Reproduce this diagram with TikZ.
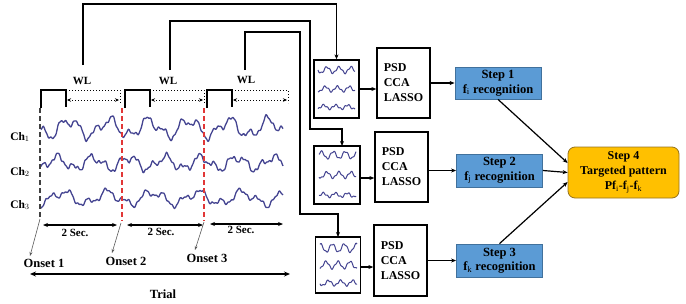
\documentclass[tikz,border=0pt]{standalone}
\usepackage{fontspec}
\setmainfont{Liberation Serif}
\usetikzlibrary{arrows.meta}
\definecolor{wavec}{RGB}{68,68,145}
\definecolor{stepblue}{RGB}{91,155,213}
\definecolor{stepborder}{RGB}{65,113,156}
\definecolor{goldfill}{RGB}{255,192,0}
\definecolor{goldborder}{RGB}{150,115,30}
\definecolor{onsetred}{RGB}{225,55,55}
\begin{document}
\begin{tikzpicture}[x=1pt,y=-1pt,font=\bfseries,
  conn/.style={line width=1.3pt,-{Stealth[length=5pt,width=4pt]}},
  wbox/.style={draw,line width=1.3pt,fill=white,inner sep=0pt},
  psdbox/.style={draw,line width=1.3pt,minimum width=53pt,minimum height=70pt,align=left,inner sep=0pt,font=\bfseries\fontsize{12}{15}\selectfont},
  stepbox/.style={draw=stepborder,fill=stepblue,line width=0.8pt,minimum width=86pt,minimum height=32pt,align=center,inner sep=0pt,font=\bfseries\fontsize{12.5}{14.5}\selectfont},
  finalbox/.style={draw=goldborder,fill=goldfill,line width=0.8pt,rounded corners=7pt,minimum width=111pt,minimum height=51pt,align=center,inner sep=0pt,font=\bfseries\fontsize{12}{15}\selectfont},
  wl/.style={font=\bfseries\fontsize{11}{12}\selectfont},
  chl/.style={font=\bfseries\fontsize{11.5}{12}\selectfont},
  secl/.style={font=\bfseries\fontsize{11}{12}\selectfont},
  onl/.style={font=\bfseries\fontsize{12.5}{14}\selectfont},
  wave/.style={wavec,line width=1.3pt,line join=round},
  pulse/.style={line width=1.3pt},
  dotl/.style={dotted,line width=1pt},
  dotarr/.style={dotted,line width=1pt,{Stealth[length=4pt,width=3.5pt]}-{Stealth[length=4pt,width=3.5pt]}},
  secarr/.style={line width=1.2pt,{Stealth[length=5pt,width=4pt]}-{Stealth[length=5pt,width=4pt]}},
  onarr/.style={gray!70!black,line width=0.6pt,-{Stealth[length=4pt,width=3pt]}},
  onsetdash/.style={line width=1.6pt,dash pattern=on 5pt off 3pt}
]
\useasboundingbox (0,0) rectangle (686,303);

% EEG waves
\draw[wave] plot[domain=41:283,samples=300] (\x,{128+7.5*sin(9*\x+10)+4.5*sin(21*\x+70)+1.6*sin(47*\x+15)+0.7*sin(97*mod(\x,3.71134)+30)});
\draw[wave] plot[domain=41:283,samples=300] (\x,{163+5.5*sin(10*\x+60)+3.5*sin(23*\x+20)+1.5*sin(53*\x+80)+0.7*sin(101*mod(\x,3.56436)+5)});
\draw[wave] plot[domain=41:283,samples=300] (\x,{198+5.5*sin(8*\x+130)+3.5*sin(19*\x+40)+1.5*sin(43*\x+110)+0.7*sin(91*mod(\x,3.95604)+60)});

% channel labels
\node[chl] (ch1) at (20,137) {Ch$_1$};
\node[chl] (ch2) at (20,172) {Ch$_2$};
\node[chl] (ch3) at (20,205) {Ch$_3$};

% onset dashed lines
\coordinate (o1t) at (40,108); \coordinate (o1b) at (40,219);
\coordinate (o2t) at (122,108); \coordinate (o2b) at (122,221);
\coordinate (o3t) at (204,108); \coordinate (o3b) at (204,221);
\draw[onsetdash,black!75] (o1t) -- (o1b);
\draw[onsetdash,onsetred] (o2t) -- (o2b);
\draw[onsetdash,onsetred] (o3t) -- (o3b);

% pulses and WL dotted spans
\foreach \a/\b/\c/\n in {41/66/120/1,125/150/204/2,207/232/288/3}{
  \coordinate (p\n a) at (\a,108);
  \coordinate (p\n b) at (\a,90);
  \coordinate (p\n c) at (\b,90);
  \coordinate (p\n d) at (\b,107);
  \coordinate (p\n e) at (\c,90);
  \coordinate (p\n f) at (\c,103);
  \coordinate (p\n g) at (\b,100);
  \coordinate (p\n h) at (\c,100);
  \draw[pulse] (p\n a) -- (p\n b) -- (p\n c) -- (p\n d);
  \draw[dotl] (p\n c) -- (p\n e) -- (p\n f);
  \draw[dotarr] ([xshift=1pt]p\n g) -- ([xshift=-1pt]p\n h);
}
\node[wl] (wl1) at (82,81) {WL};
\node[wl] (wl2) at (168,81) {WL};
\node[wl] (wl3) at (246,80) {WL};

% 2 Sec arrows
\coordinate (s1a) at (43,225); \coordinate (s1b) at (117,225);
\coordinate (s2a) at (127,225); \coordinate (s2b) at (203,225);
\coordinate (s3a) at (210,224); \coordinate (s3b) at (283,224);
\draw[secarr] (s1a) -- (s1b);
\draw[secarr] (s2a) -- (s2b);
\draw[secarr] (s3a) -- (s3b);
\node[secl] (sec1) at (75,233) {2 Sec.};
\node[secl] (sec2) at (161,232) {2 Sec.};
\node[secl] (sec3) at (241,230) {2 Sec.};

% onsets
\node[onl] (on1) at (44,263) {Onset 1};
\node[onl] (on2) at (126,261) {Onset 2};
\node[onl] (on3) at (207,258) {Onset 3};
\coordinate (a1e) at (30,256);
\coordinate (a2s) at (121,223); \coordinate (a2e) at (112,253);
\coordinate (a3s) at (204,222); \coordinate (a3e) at (195,250);
\draw[onarr] (o1b) -- (a1e);
\draw[onarr] (a2s) -- (a2e);
\draw[onarr] (a3s) -- (a3e);

% trial
\coordinate (tra) at (30,274); \coordinate (trb) at (290,274);
\draw[line width=1.2pt,{Stealth[length=6pt,width=5pt]}-{Stealth[length=6pt,width=5pt]}] (tra) -- (trb);
\node[onl] (trial) at (163,294) {Trial};

% small wave boxes
\node[wbox,minimum width=45pt,minimum height=58pt] (box1) at (336.5,89) {};
\node[wbox,minimum width=46pt,minimum height=58pt] (box2) at (337,175) {};
\node[wbox,minimum width=45pt,minimum height=56pt] (box3) at (338,265) {};
\foreach \bx/\by/\ph/\am in {318/70/0/3,318/89/50/2.5,318/107/100/2,319/155/200/3.5,319/175/30/3,319/195/140/2,320/248/260/4,320/265/90/3.5,320/283/10/2.5}{
  \draw[wavec,line width=1pt,line join=round] plot[domain=0:37,samples=60] ({\bx+\x},{\by+\am*sin(30*\x+\ph)+0.9*sin(83*\x+2*\ph)});
}

% PSD boxes
\node[psdbox] (psd1) at (403.5,83) {PSD\\CCA\\LASSO};
\node[psdbox] (psd2) at (401.5,167) {PSD\\CCA\\LASSO};
\node[psdbox,minimum height=71pt] (psd3) at (400.5,260.5) {PSD\\CCA\\LASSO};

% step boxes
\node[stepbox] (step1) at (498,83) {Step 1\\f$_\mathrm{i}$ recognition};
\node[stepbox,minimum height=33pt] (step2) at (499.5,170.5) {Step 2\\f$_\mathrm{j}$ recognition};
\node[stepbox,minimum height=33pt] (step3) at (499.5,260.5) {Step 3\\f$_\mathrm{k}$ recognition};
\node[finalbox] (step4) at (623.5,172.5) {Step 4\\Targeted pattern\\Pf$_\mathrm{i}$-f$_\mathrm{j}$-f$_\mathrm{k}$};

% routing from WL to boxes
\coordinate (w1s) at (83,65); \coordinate (w1t) at (83,4);
\coordinate (w2s) at (170,70); \coordinate (w2t) at (170,21);
\coordinate (w2r) at (310,129); \coordinate (w2e) at (342,146);
\coordinate (w3s) at (245,70); \coordinate (w3t) at (245,32);
\coordinate (w3r) at (300,214); \coordinate (w3e) at (338,237);
\draw[conn] (w1s) -- (w1t) -| (box1.north);
\draw[conn] (w2s) -- (w2t) -| (w2r) -| (w2e);
\draw[conn] (w3s) -- (w3t) -| (w3r) -| (w3e);

% box -> psd -> step
\draw[conn] (box1.east) -- (box1.east -| psd1.west);
\draw[conn] ([yshift=-3pt]box2.east) -- ([yshift=-3pt]box2.east -| psd2.west);
\draw[conn] ([yshift=-2pt]box3.east) -- ([yshift=-2pt]box3.east -| psd3.west);
\draw[conn] (psd1.east |- step1.west) -- (step1.west);
\draw[conn] (psd2.east |- step2.west) -- (step2.west);
\draw[conn] (psd3.east |- step3.west) -- (step3.west);

% steps -> step4
\draw[line width=1.2pt,-{Stealth[length=5pt,width=4pt]}] (step1.south) -- ([yshift=9.5pt]step4.west);
\draw[line width=1.2pt,-{Stealth[length=5pt,width=4pt]}] (step2.east) -- (step4.west);
\draw[line width=1.2pt,-{Stealth[length=5pt,width=4pt]}] (step3.north) -- ([yshift=-9.5pt]step4.west);
\end{tikzpicture}
\end{document}
